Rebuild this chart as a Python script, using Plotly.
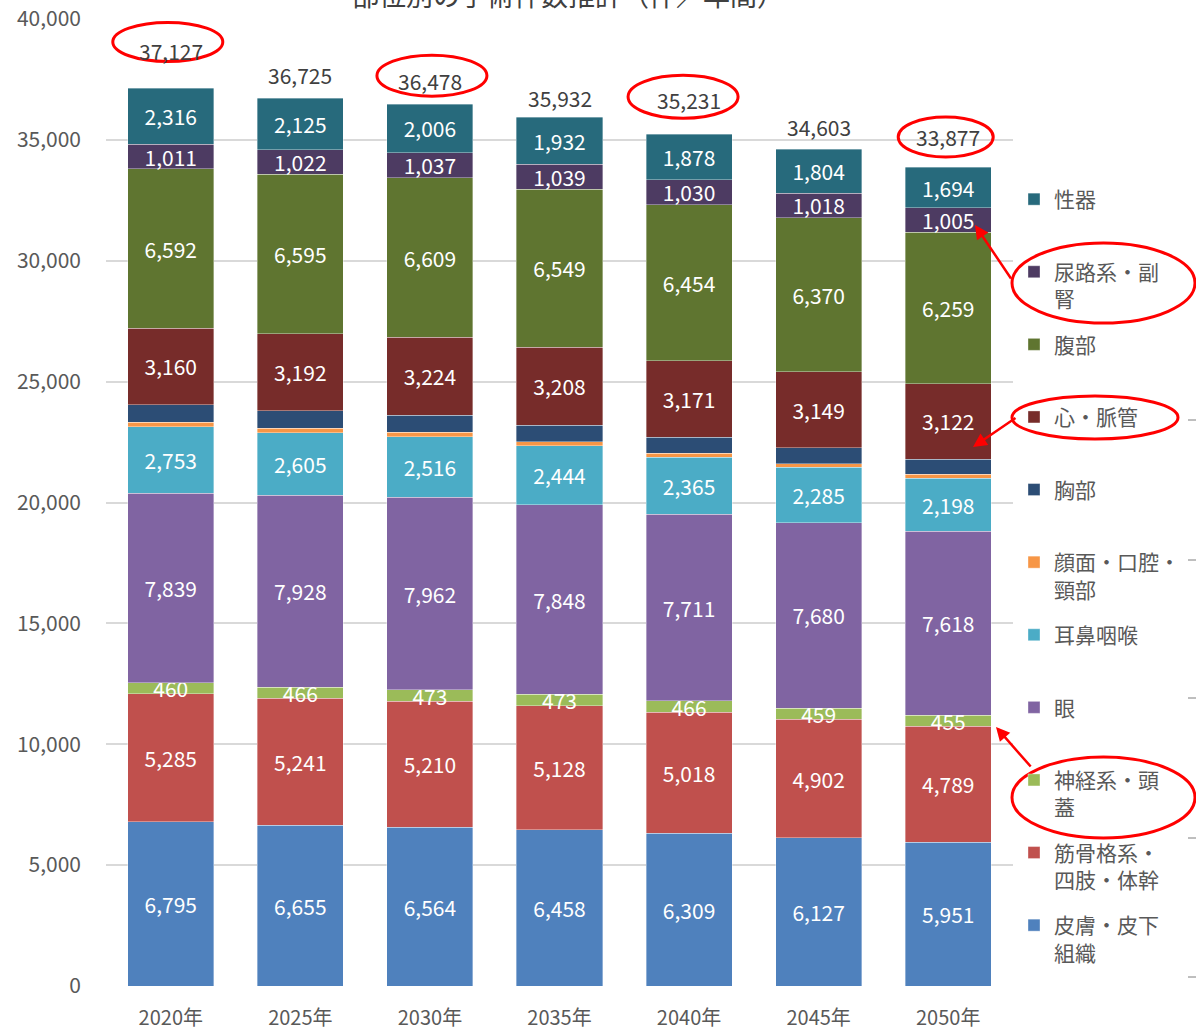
import plotly.graph_objects as go

# ---- data -------------------------------------------------------------
years = ["2020年", "2025年", "2030年", "2035年", "2040年", "2045年", "2050年"]

skin = [6795, 6655, 6564, 6458, 6309, 6127, 5951]
musculo = [5285, 5241, 5210, 5128, 5018, 4902, 4789]
neuro = [460, 466, 473, 473, 466, 459, 455]
eye = [7839, 7928, 7962, 7848, 7711, 7680, 7618]
ent = [2753, 2605, 2516, 2444, 2365, 2285, 2198]
face = [180, 176, 172, 168, 163, 158, 153]
chest = [736, 720, 705, 685, 666, 651, 633]
cardio = [3160, 3192, 3224, 3208, 3171, 3149, 3122]
abdomen = [6592, 6595, 6609, 6549, 6454, 6370, 6259]
urinary = [1011, 1022, 1037, 1039, 1030, 1018, 1005]
genital = [2316, 2125, 2006, 1932, 1878, 1804, 1694]
totals = [37127, 36725, 36478, 35932, 35231, 34603, 33877]

y_ticks = [0, 5000, 10000, 15000, 20000, 25000, 30000, 35000, 40000]

# series drawn bottom -> top: (legend name, values, colour, show value labels)
series = [
    ("皮膚・皮下<br>組織", skin, "#4F81BD", True),
    ("筋骨格系・<br>四肢・体幹", musculo, "#C0504D", True),
    ("神経系・頭<br>蓋", neuro, "#9BBB59", True),
    ("眼", eye, "#8064A2", True),
    ("耳鼻咽喉", ent, "#4BACC6", True),
    ("顔面・口腔・<br>頸部", face, "#F79646", False),
    ("胸部", chest, "#2C4D75", False),
    ("心・脈管", cardio, "#772C2A", True),
    ("腹部", abdomen, "#5F7530", True),
    ("尿路系・副<br>腎", urinary, "#4D3B62", True),
    ("性器", genital, "#276A7C", True),
]

# ---- layout geometry (pixels) ----------------------------------------
W, H = 1196, 1030
L, R, T, B = 106, 183, 19, 44
PW, PH = W - L - R, H - T - B


def px(x):
    return (x - L) / PW


def py(y):
    return (H - B - y) / PH


FONT = "Noto Sans CJK JP"
RED = "#FF0000"

fig = go.Figure()

n = len(series)
for i, (name, vals, color, labeled) in enumerate(series):
    label = name if "<br>" in name else name + "<br> "
    fig.add_trace(go.Bar(
        x=years, y=vals, name=label,
        legendgroup=f"g{i}", legendrank=100 + n - i,
        marker=dict(color=color, line=dict(color="rgba(255,255,255,0.45)", width=0.8)),
        text=[f"{v:,}" for v in vals] if labeled else None,
        textposition="inside" if labeled else "none",
        insidetextanchor="middle",
        textangle=0,
        textfont=dict(color="white", size=21, family=FONT),
        hoverinfo="x+y+name",
    ))

# total labels above each bar (vertical offsets in px)
total_offsets = [37, 23, 23, 19, 34, 22, 30]
for yr, tot, off in zip(years, totals, total_offsets):
    fig.add_annotation(
        x=yr, y=tot, text=f"{tot:,}", showarrow=False,
        yanchor="middle", yshift=off,
        font=dict(size=21, color="#404040", family=FONT),
    )

shapes = []

# red ellipses around highlighted totals, anchored to bar tops
circled = [  # (bar index, x offsets, y offsets in px)
    (0, (-58, 52), (27, 66)),
    (2, (-53, 57), (8, 49)),
    (4, (-61, 49), (16, 59)),
    (6, (-50, 45), (10, 50)),
]
for idx, (xa, xb), (ya, yb) in circled:
    shapes.append(dict(
        type="circle", xref="x", yref="y",
        xsizemode="pixel", ysizemode="pixel",
        xanchor=idx, yanchor=totals[idx],
        x0=xa, x1=xb, y0=ya, y1=yb,
        line=dict(color=RED, width=3),
    ))

# red ellipses around selected legend entries
for (x0, y0, x1, y1) in [(1012, 243, 1195, 323), (1012, 396, 1178, 439), (1012, 757, 1195, 838)]:
    shapes.append(dict(
        type="circle", xref="paper", yref="paper",
        x0=px(x0), x1=px(x1), y0=py(y1), y1=py(y0),
        line=dict(color=RED, width=3),
    ))

# short tick marks at the right edge
for yy in [420, 560, 698, 838, 977]:
    shapes.append(dict(
        type="line", xref="paper", yref="paper",
        x0=px(1188), x1=px(1196), y0=py(yy), y1=py(yy),
        line=dict(color="#7F7F7F", width=1),
    ))

fig.update_layout(shapes=shapes)

# red arrows from legend entries to bar segments
for (hx, hy, tx, ty) in [(975, 225, 1012, 280), (973, 447, 1017, 417), (996, 727, 1032, 768)]:
    fig.add_annotation(
        x=px(hx), y=py(hy), xref="paper", yref="paper",
        ax=tx - hx, ay=ty - hy, axref="pixel", ayref="pixel",
        text="", showarrow=True, arrowhead=2, arrowsize=1.1,
        arrowwidth=2.5, arrowcolor=RED,
    )

# chart title (runs off the top edge of the page)
fig.add_annotation(
    x=px(568), y=py(-5), xref="paper", yref="paper",
    text="部位別の手術件数推計（件／年間）", showarrow=False,
    xanchor="center", yanchor="middle",
    font=dict(size=27, color="#404040", family=FONT),
)

fig.update_layout(
    width=W, height=H,
    margin=dict(l=L, r=R, t=T, b=B, autoexpand=False),
    barmode="stack", bargap=0.336,
    plot_bgcolor="white", paper_bgcolor="white",
    font=dict(family=FONT, color="#595959"),
    uniformtext=dict(mode="show", minsize=21),
    showlegend=True,
    legend=dict(
        x=px(1014), xanchor="left", y=py(179), yanchor="top",
        traceorder="grouped", tracegroupgap=15,
        font=dict(size=21, color="#595959", family=FONT),
        valign="top", itemclick=False, bgcolor="rgba(0,0,0,0)",
    ),
    xaxis=dict(
        type="category", showgrid=False, showline=False, ticks="",
        tickfont=dict(size=20, color="#595959", family=FONT),
        ticklabelstandoff=18, automargin=False,
    ),
    yaxis=dict(
        range=[0, 40000], tickvals=y_ticks, tickformat=",",
        showgrid=True, gridcolor="#D9D9D9", gridwidth=1.5,
        zeroline=False, showline=False, ticks="",
        tickfont=dict(size=21, color="#595959", family=FONT),
        ticklabelstandoff=24, automargin=False,
    ),
)

fig.write_html("out.html")
